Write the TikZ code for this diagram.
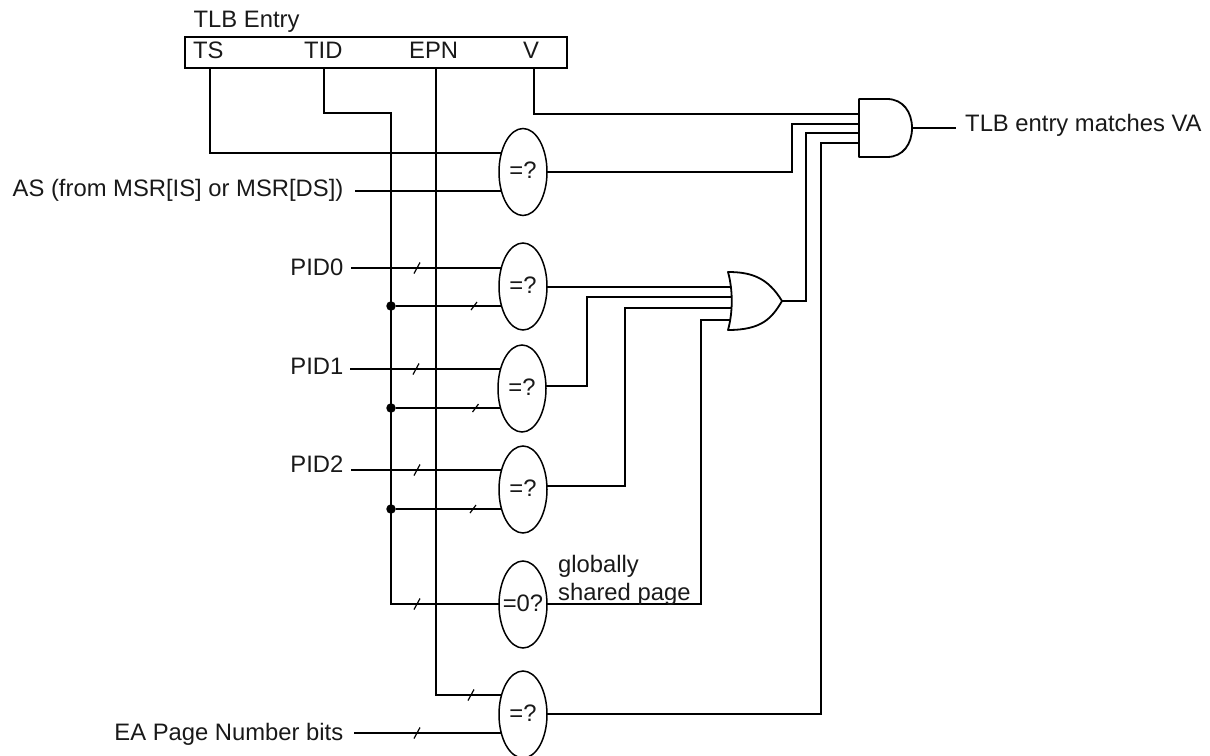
\documentclass[tikz,border=0pt]{standalone}
\usepackage{fontspec}
\setmainfont{Liberation Sans}
\usetikzlibrary{shapes.geometric,backgrounds}
\tikzset{
  x=1pt,y=-1pt,
  every node/.style={font=\fontsize{23.8}{27}\selectfont,text=black!90},
  wire/.style={line width=1.8pt,line join=miter,line cap=butt},
  gate/.style={line width=1.8pt,fill=white,line join=round},
  cmp/.style={draw,ellipse,line width=1.5pt,fill=white,minimum width=48pt,minimum height=87pt,inner sep=0pt,outer sep=0pt},
  lbl/.style={anchor=base west,inner sep=0pt},
  rlbl/.style={anchor=base east,inner sep=0pt},
  joint/.style={circle,fill=black,inner sep=0pt,minimum size=9.5pt},
  tick/.style={line width=1.2pt}
}
\newcommand{\cmptext}[1]{\raisebox{3.5pt}{\makebox[0pt][c]{#1}}}
\begin{document}
\begin{tikzpicture}
\useasboundingbox (0,0) rectangle (1210,755);
% TLB entry
\node[lbl] (title) at (193.5,27) {TLB Entry};
\node[draw,line width=1.8pt,anchor=north west,minimum width=382pt,minimum height=31pt,inner sep=0pt,outer sep=0pt] (tlb) at (185,37) {};
\node[lbl] (ts) at (193,58) {TS};
\node[lbl] (tid) at (304,58) {TID};
\node[lbl] (epn) at (409,58) {EPN};
\node[lbl] (v) at (523,58) {V};
% comparators
\node[cmp] (c1) at (523,172) {\cmptext{=?}};
\node[cmp] (c2) at (523,286.5) {\cmptext{=?}};
\node[cmp] (c3) at (522,388.5) {\cmptext{=?}};
\node[cmp] (c4) at (523,489.5) {\cmptext{=?}};
\node[cmp] (c5) at (523,604.5) {\cmptext{=0?}};
\node[cmp] (c6) at (523,714.5) {\cmptext{=?}};
% labels
\node[rlbl] (as) at (343.5,196) {AS (from MSR[IS] or MSR[DS])};
\node[rlbl] (pid0) at (343.5,275) {PID0};
\node[rlbl] (pid1) at (343.5,374) {PID1};
\node[rlbl] (pid2) at (343.5,472) {PID2};
\node[rlbl] (ea) at (343.5,740) {EA Page Number bits};
\node[lbl] (glob) at (558,572) {globally};
\node[lbl] (shared) at (558,600) {shared page};
\node[lbl] (match) at (965,131) {TLB entry matches VA};
% AND gate
\coordinate (andtl) at (859,99);
\coordinate (andbl) at (859,157);
\coordinate (andout) at (912,128);
\draw[gate] (andtl) -- (887,99) .. controls (903,99) and (912,112) .. (andout)
  .. controls (912,144) and (903,157) .. (887,157) -- (andbl) -- cycle;
% OR gate
\coordinate (ortl) at (728,272);
\coordinate (orbl) at (728,330);
\coordinate (orout) at (782,301);
\draw[gate] (ortl) .. controls (752,272) and (768,278) .. (orout)
  .. controls (772,318) and (762,330) .. (orbl)
  .. controls (733,312) and (733,290) .. (ortl) -- cycle;
% bus junctions
\node[joint] (j0) at (391,306) {};
\node[joint] (j1) at (391,408) {};
\node[joint] (j2) at (391,509) {};
% free end points
\coordinate (a1) at (859,114);
\coordinate (a2) at (859,124);
\coordinate (a3) at (859,133);
\coordinate (a4) at (859,143);
\coordinate (o1) at (731,287);
\coordinate (o2) at (731,297);
\coordinate (o3) at (731,308);
\coordinate (o4) at (731,320);
\begin{scope}[on background layer]
\draw[wire] (210,68) -- (210,153) -- (c1.center |- 0,153);
\draw[wire] (355,191) -- (c1.center |- 0,191);
\draw[wire] (324,68) -- (324,113) -- (391,113) -- (391,604) -- (c5.center |- 0,604);
\draw[wire] (436,68) -- (436,695) -- (c6.center |- 0,695);
\draw[wire] (534,68) -- (534,114) -- (a1);
\draw[wire] (c1.center) -- (792,172) -- (792,124) -- (a2);
\draw[wire] (orout) -- (806,301) -- (806,133) -- (a3);
\draw[wire] (c6.center |- 0,714) -- (821,714) -- (821,143) -- (a4);
\draw[wire] (andout) -- (956,128);
\draw[wire] (351,268) -- (c2.center |- 0,268);
\draw[wire] (j0) -- (c2.center |- j0);
\draw[wire] (350,369) -- (c3.center |- 0,369);
\draw[wire] (j1) -- (c3.center |- j1);
\draw[wire] (351,470) -- (c4.center |- 0,470);
\draw[wire] (j2) -- (c4.center |- j2);
\draw[wire] (354,733) -- (c6.center |- 0,733);
\draw[wire] (c2.center |- 0,287) -- (o1);
\draw[wire] (c3.center |- 0,386) -- (587,386) -- (587,297) -- (o2);
\draw[wire] (c4.center |- 0,486) -- (625,486) -- (625,308) -- (o3);
\draw[wire] (c5.center |- 0,604) -- (701,604) -- (701,320) -- (o4);
\end{scope}
% bus width ticks
\foreach \px/\py in {417/268,416/369,417/470,417/604,471/695,417/733}
  \draw[tick] (\px-3,\py+5.5) -- (\px+3,\py-5.5);
\foreach \px/\py in {474/306,475.5/408,473/509}
  \draw[tick] (\px-3,\py+4) -- (\px+3,\py-4);
\end{tikzpicture}
\end{document}
